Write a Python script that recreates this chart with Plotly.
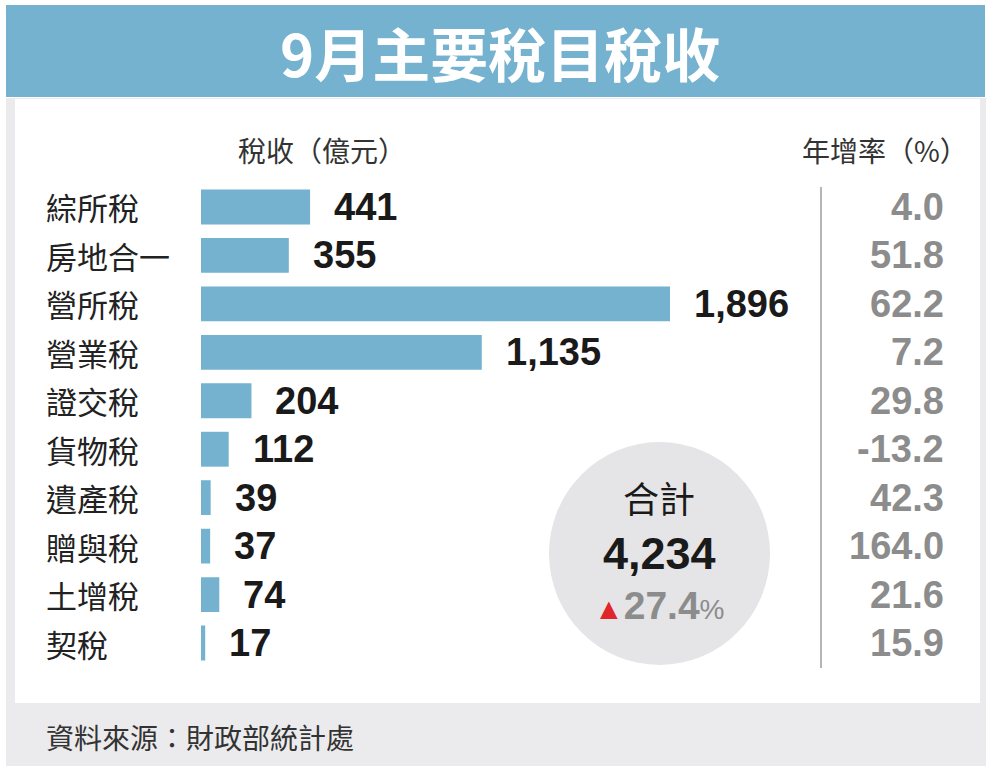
import plotly.graph_objects as go

W, H = 994, 769

categories = ["綜所稅", "房地合一", "營所稅", "營業稅", "證交稅", "貨物稅", "遺產稅", "贈與稅", "土增稅", "契稅"]
revenue = [441, 355, 1896, 1135, 204, 112, 39, 37, 74, 17]
growth = [4.0, 51.8, 62.2, 7.2, 29.8, -13.2, 42.3, 164.0, 21.6, 15.9]
total_revenue = 4234
total_growth = 27.4

title_text = "9月主要稅目稅收"
left_header = "稅收（億元）"
right_header = "年增率（%）"
source_text = "資料來源：財政部統計處"

BLUE = "#74b2cf"
CJK = "Noto Sans CJK TC"
NUM = "Liberation Sans, Arial"


def px(x):
    return x / W


def py(y):
    return 1 - y / H


fig = go.Figure()

fig.add_trace(go.Bar(
    y=categories,
    x=revenue,
    orientation="h",
    marker=dict(color=BLUE, line=dict(width=0)),
    width=0.72,
    hoverinfo="skip",
))

shapes = []
shapes.append(dict(type="rect", xref="paper", yref="paper", x0=px(6), x1=px(986), y0=py(766), y1=py(98),
                   fillcolor="#ebebed", line=dict(width=0), layer="below"))
shapes.append(dict(type="rect", xref="paper", yref="paper", x0=px(15), x1=px(980), y0=py(703), y1=py(99),
                   fillcolor="#ffffff", line=dict(width=0), layer="below"))
shapes.append(dict(type="rect", xref="paper", yref="paper", x0=px(6), x1=px(985), y0=py(97), y1=py(5),
                   fillcolor=BLUE, line=dict(width=0), layer="below"))
shapes.append(dict(type="line", xref="paper", yref="paper", x0=px(821), x1=px(821), y0=py(187), y1=py(668),
                   line=dict(color="#b5b5b5", width=2)))
shapes.append(dict(type="circle", xref="paper", yref="paper", x0=px(549), x1=px(770), y0=py(665), y1=py(442),
                   fillcolor="#e5e5e7", line=dict(width=0), layer="below"))

ann = []
ann.append(dict(text=f"<b>{title_text}</b>", xref="paper", yref="paper", x=px(500), y=py(52),
                xanchor="center", yanchor="middle", showarrow=False,
                font=dict(family=CJK, size=58, color="#ffffff")))
ann.append(dict(text=left_header, xref="paper", yref="paper", x=px(322), y=py(150),
                xanchor="center", yanchor="middle", showarrow=False,
                font=dict(family=CJK, size=28, color="#333333")))
ann.append(dict(text=right_header, xref="paper", yref="paper", x=px(885), y=py(150),
                xanchor="center", yanchor="middle", showarrow=False,
                font=dict(family=CJK, size=28, color="#333333")))
ann.append(dict(text=source_text, xref="paper", yref="paper", x=px(44), y=py(737),
                xanchor="left", yanchor="middle", showarrow=False,
                font=dict(family=CJK, size=28, color="#333333")))

for c, v, g in zip(categories, revenue, growth):
    ann.append(dict(text=c, xref="paper", yref="y", x=px(44), y=c, xanchor="left", yanchor="middle",
                    showarrow=False, font=dict(family=CJK, size=31, color="#222222")))
    ann.append(dict(text=f"<b>{v:,}</b>", xref="x", yref="y", x=v, y=c, xanchor="left", yanchor="middle",
                    xshift=22, showarrow=False, font=dict(family=NUM, size=38, color="#1a1a1a")))
    ann.append(dict(text=f"<b>{g:.1f}</b>", xref="paper", yref="y", x=px(946), y=c, xanchor="right",
                    yanchor="middle", showarrow=False, font=dict(family=NUM, size=38, color="#8c8c8c")))

ann.append(dict(text="合計", xref="paper", yref="paper", x=px(659), y=py(497), xanchor="center",
                yanchor="middle", showarrow=False, font=dict(family=CJK, size=36, color="#1a1a1a")))
ann.append(dict(text=f"<b>{total_revenue:,}</b>", xref="paper", yref="paper", x=px(659), y=py(553),
                xanchor="center", yanchor="middle", showarrow=False,
                font=dict(family=NUM, size=45, color="#1a1a1a")))
ann.append(dict(text=(f"<span style='color:#e0252b;font-size:30px'>▲</span>"
                      f"<b>{total_growth:.1f}</b><span style='font-size:28px'>%</span>"),
                xref="paper", yref="paper", x=px(659), y=py(605),
                xanchor="center", yanchor="middle", showarrow=False,
                font=dict(family=NUM, size=39, color="#8c8c8c")))

fig.update_layout(
    width=W, height=H,
    margin=dict(l=0, r=0, t=0, b=0),
    paper_bgcolor="#ffffff",
    plot_bgcolor="rgba(0,0,0,0)",
    showlegend=False,
    shapes=shapes,
    annotations=ann,
    xaxis=dict(domain=[px(201), px(670)], range=[0, 1896], visible=False, fixedrange=True),
    yaxis=dict(domain=[py(667.25), py(182.75)], range=[9.5, -0.5], visible=False,
               categoryorder="array", categoryarray=categories, fixedrange=True),
)

fig.write_html("out.html")
